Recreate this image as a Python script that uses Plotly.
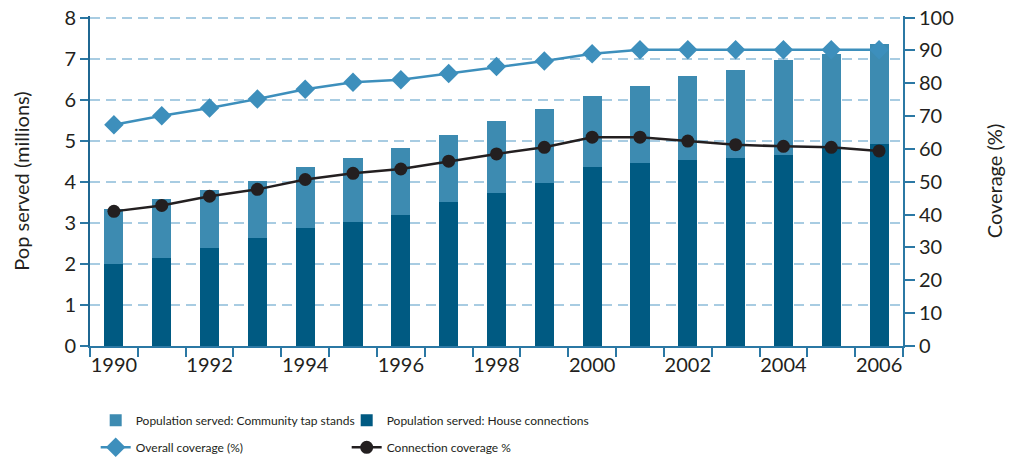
import plotly.graph_objects as go

years = list(range(1990, 2007))
house_connections = [2.00, 2.15, 2.38, 2.62, 2.87, 3.02, 3.18, 3.50, 3.72, 3.96, 4.35, 4.45, 4.52, 4.59, 4.66, 4.86, 4.91]
total_served = [3.34, 3.57, 3.81, 4.03, 4.35, 4.59, 4.83, 5.15, 5.47, 5.78, 6.10, 6.34, 6.58, 6.73, 6.97, 7.12, 7.36]
community_taps = [round(t - h, 2) for t, h in zip(total_served, house_connections)]
overall_coverage = [67.4, 70.1, 72.5, 75.2, 78.2, 80.3, 81.1, 83.0, 85.1, 86.8, 89.0, 90.2, 90.2, 90.2, 90.2, 90.2, 90.2]
connection_coverage = [41.0, 42.8, 45.6, 47.7, 50.7, 52.6, 53.9, 56.3, 58.5, 60.5, 63.6, 63.6, 62.4, 61.3, 60.8, 60.5, 59.4]
label_years = list(range(1990, 2007, 2))

LIGHT = "#3d8bb1"
DARK = "#005a82"
LINE_BLUE = "#3d8fbc"
BLACK = "#231f20"
AXIS = "#2b78a4"
GRID = "#a8cce2"
FONT = "Lato, Open Sans, sans-serif"
LFONT = "Lato, sans-serif"

fig = go.Figure()
fig.add_trace(go.Bar(x=years, y=house_connections, name="Population served: House connections",
                     marker=dict(color=DARK, line=dict(width=0)), width=0.4, legend="legend"))
fig.add_trace(go.Bar(x=years, y=community_taps, name="Population served: Community tap stands",
                     marker=dict(color=LIGHT, line=dict(width=0)), width=0.4, legend="legend"))
fig.add_trace(go.Scatter(x=years, y=overall_coverage, name="Overall coverage (%)", yaxis="y2",
                         mode="lines+markers", line=dict(color=LINE_BLUE, width=2.5),
                         marker=dict(symbol="diamond", size=15, color=LINE_BLUE), legend="legend2"))
fig.add_trace(go.Scatter(x=years, y=connection_coverage, name="Connection coverage %", yaxis="y2",
                         mode="lines+markers", line=dict(color=BLACK, width=2.5),
                         marker=dict(symbol="circle", size=13, color=BLACK), legend="legend2"))

fig.update_layout(
    width=1031, height=461,
    margin=dict(l=90, r=128, t=15.5, b=115, autoexpand=False),
    paper_bgcolor="white", plot_bgcolor="white",
    barmode="stack",
    font=dict(family=FONT, color=BLACK, size=20),
    xaxis=dict(range=[1989.5, 2006.5], tickvals=label_years, ticktext=[str(y) for y in label_years],
               ticks="", showline=True, linecolor=AXIS, linewidth=2, showgrid=False, zeroline=False,
               tickfont=dict(size=20, color=BLACK), automargin=False, ticklabeloverflow="allow",
               minor=dict(tick0=1989.5, dtick=1, ticks="outside", ticklen=9, tickcolor=AXIS, tickwidth=2, showgrid=False)),
    yaxis=dict(range=[0, 8.04], tickvals=list(range(0, 9)), ticks="outside", ticklen=8, tickcolor=AXIS, tickwidth=2,
               showline=True, linecolor="#1f6792", linewidth=2, automargin=False, ticklabeloverflow="allow",
               showgrid=True, gridcolor=GRID, gridwidth=1.5, griddash="10px,6px", zeroline=False,
               tickfont=dict(size=20, color=BLACK),
               title=dict(text="Pop served (millions)", font=dict(size=20, color=BLACK), standoff=29)),
    yaxis2=dict(range=[0, 100.5], tickvals=list(range(0, 101, 10)), overlaying="y", side="right", ticks="outside", ticklen=10,
                tickcolor=AXIS, tickwidth=2, showline=True, linecolor=AXIS, linewidth=2, showgrid=False,
                zeroline=False, tickfont=dict(size=20, color=BLACK), automargin=False, ticklabeloverflow="allow",
                title=dict(text="Coverage (%)", font=dict(size=20, color=BLACK), standoff=35)),
    legend=dict(orientation="h", x=0.007, xanchor="left", y=-0.225, yanchor="middle",
                entrywidth=206, traceorder="reversed", font=dict(family=LFONT, size=12, color=BLACK),
                bgcolor="rgba(0,0,0,0)"),
    legend2=dict(orientation="h", x=0.007, xanchor="left", y=-0.307, yanchor="middle",
                 entrywidth=206, font=dict(family=LFONT, size=12, color=BLACK),
                 bgcolor="rgba(0,0,0,0)"),
)

fig.write_html("out.html", config={"displayModeBar": False},
               post_script="document.body.style.margin='0px';document.body.style.overflow='hidden';")
